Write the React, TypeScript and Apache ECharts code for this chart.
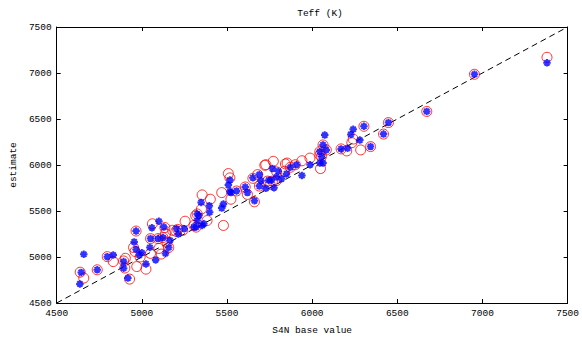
import React, { useEffect, useRef } from "react";
import * as echarts from "echarts";

const titleText = "Teff (K)";
const xName = "S4N base value";
const yName = "estimate";
const axisMin = 4500;
const axisMax = 7500;
const axisStep = 500;

const blueX = [4636,4644,4659,4738,4797,4832,4893,4893,4918,4955,4966,4966,4985,5000,5024,5047,5051,5059,5081,5095,5100,5124,5129,5139,5158,5165,5204,5214,5249,5306,5319,5325,5325,5335,5348,5354,5364,5396,5398,5469,5479,5508,5517,5517,5523,5556,5607,5620,5652,5661,5690,5690,5700,5728,5745,5760,5767,5776,5790,5801,5820,5849,5872,5908,5940,5988,6045,6045,6055,6064,6064,6074,6083,6170,6208,6227,6241,6280,6304,6343,6419,6448,6673,6953,7379];
const blueY = [4707,4832,5030,4861,5004,5021,4950,4879,4771,5164,5082,5282,5021,5045,4925,5103,5200,5318,4968,5200,5389,5211,5325,5039,5103,5180,5307,5250,5307,5325,5325,5396,5468,5450,5593,5343,5361,5557,5486,5532,5575,5782,5711,5836,5700,5718,5761,5700,5861,5611,5771,5896,5830,5746,5835,5835,5961,5754,5870,5932,5850,5903,5975,6003,5886,6003,6021,6146,6093,6021,6218,6325,6164,6175,6182,6332,6389,6271,6421,6200,6336,6461,6582,6986,7111];

const redX = [4638,4659,4738,4797,4832,4893,4903,4900,4928,4951,4960,4966,4970,4990,5024,5051,5051,5062,5095,5100,5114,5124,5135,5139,5147,5158,5180,5200,5210,5254,5240,5306,5316,5319,5325,5350,5354,5383,5402,5469,5479,5508,5517,5523,5556,5607,5620,5661,5652,5680,5690,5722,5728,5738,5753,5767,5772,5790,5792,5838,5843,5853,5872,5901,5940,5987,6045,6049,6045,6055,6083,6064,6170,6203,6233,6241,6285,6304,6343,6419,6448,6673,6953,7379];
const redY = [4835,4771,4861,5004,4950,4957,4986,4880,4760,5103,5060,5282,4896,5000,4868,5039,5200,5361,5200,5093,5032,5211,5320,5254,5164,5103,5290,5280,5300,5389,5290,5343,5450,5325,5468,5521,5675,5396,5628,5700,5343,5907,5860,5628,5718,5761,5680,5600,5855,5896,5771,5997,6003,5825,5789,5825,6040,5830,5925,5932,6011,6021,5975,6003,6046,6075,6110,5961,6146,6093,6164,6218,6175,6153,6243,6282,6164,6421,6200,6336,6461,6582,6986,7171];

const diagX = [4500, 7500];
const diagY = [4500, 7500];

const FONT = "Liberation Mono";

export default function App() {
  const ref = useRef<HTMLDivElement>(null);
  useEffect(() => {
    if (!ref.current) return;
    const chart = echarts.init(ref.current, undefined, { renderer: "svg" });
    const axisCommon = {
      type: "value" as const,
      min: axisMin,
      max: axisMax,
      interval: axisStep,
      splitLine: { show: false },
      axisLine: { show: true, lineStyle: { color: "#000", width: 1 } },
      axisTick: { show: true, inside: true, length: 4, lineStyle: { color: "#000" } },
    };
    const labelStyle = {
      fontFamily: FONT,
      fontSize: 9.5,
      color: "#000",
      margin: 5,
      formatter: (v: number) => String(v),
    };
    chart.setOption({
      animation: false,
      backgroundColor: "#fff",
      title: {
        text: titleText,
        left: 315,
        top: 3,
        textAlign: "center",
        textStyle: { fontFamily: FONT, fontSize: 9.5, fontWeight: "normal", color: "#000" },
      },
      grid: { left: 55, top: 27, width: 521, height: 281 },
      xAxis: [
        {
          ...axisCommon,
          position: "bottom",
          name: xName,
          nameLocation: "middle",
          nameGap: 22,
          nameTextStyle: { fontFamily: FONT, fontSize: 9.5, color: "#000" },
          axisLabel: labelStyle,
        },
        { ...axisCommon, position: "top", axisLabel: { show: false } },
      ],
      yAxis: [
        {
          ...axisCommon,
          position: "left",
          name: yName,
          nameLocation: "middle",
          nameGap: 30,
          nameTextStyle: { fontFamily: FONT, fontSize: 9.5, color: "#000" },
          axisLabel: labelStyle,
        },
        { ...axisCommon, position: "right", axisLabel: { show: false } },
      ],
      series: [
        {
          type: "line",
          data: diagX.map((x, i) => [x, diagY[i]]),
          symbol: "none",
          lineStyle: { color: "#000", width: 1, type: [6, 4] },
          z: 1,
        },
        {
          type: "scatter",
          data: redX.map((x, i) => [x, redY[i]]),
          symbol: "circle",
          symbolSize: 10,
          itemStyle: { color: "rgba(0,0,0,0)", borderColor: "#ff0000", borderWidth: 1 },
          z: 2,
        },
        {
          type: "scatter",
          data: blueX.map((x, i) => [x, blueY[i]]),
          symbol: "path://M5,0L5,10M0,5L10,5M1.5,1.5L8.5,8.5M1.5,8.5L8.5,1.5",
          symbolSize: 7.5,
          itemStyle: { color: "#0000ff", borderColor: "#0000ff", borderWidth: 2 },
          z: 3,
        },
      ],
    });
    return () => chart.dispose();
  }, []);
  return (
    <div
      ref={ref}
      style={{ position: "absolute", left: 0, top: 0, width: 582, height: 340 }}
    />
  );
}
